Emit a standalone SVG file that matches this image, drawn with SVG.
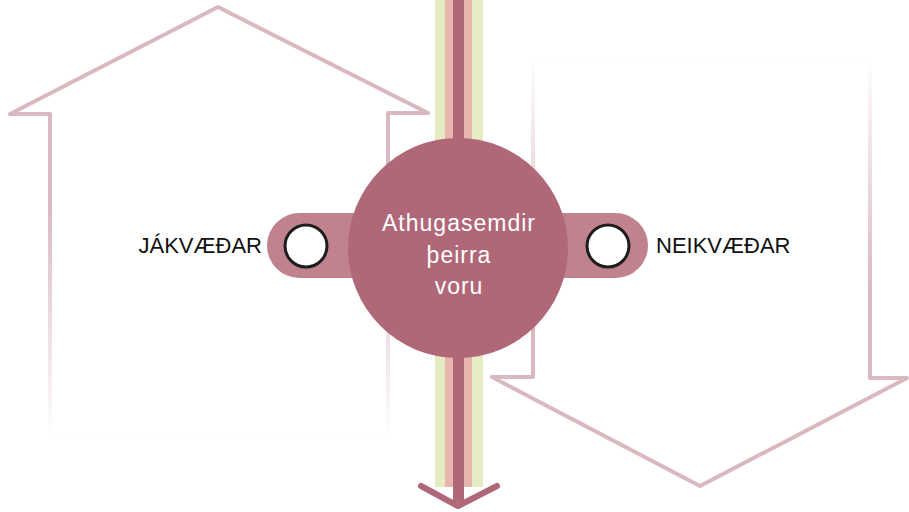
<svg xmlns="http://www.w3.org/2000/svg" width="909" height="512" viewBox="0 0 909 512">
  <defs>
    <linearGradient id="fadeDown" gradientUnits="userSpaceOnUse" x1="0" y1="7" x2="0" y2="438">
      <stop offset="0" stop-color="#d9b8bf" stop-opacity="1"/>
      <stop offset="0.45" stop-color="#d9b8bf" stop-opacity="1"/>
      <stop offset="1" stop-color="#d9b8bf" stop-opacity="0"/>
    </linearGradient>
    <linearGradient id="fadeUp" gradientUnits="userSpaceOnUse" x1="0" y1="55" x2="0" y2="488">
      <stop offset="0" stop-color="#d9b8bf" stop-opacity="0"/>
      <stop offset="0.55" stop-color="#d9b8bf" stop-opacity="1"/>
      <stop offset="1" stop-color="#d9b8bf" stop-opacity="1"/>
    </linearGradient>
    <style>
      .outline { fill: none; stroke-width: 4; stroke-linejoin: round; stroke-linecap: round; }
      .pill { fill: #c0838e; }
      .knob { fill: #ffffff; stroke: #1e1e1e; stroke-width: 3; }
      .label { font-family: "Liberation Sans", Arial, sans-serif; font-size: 22px; fill: #111111; }
      .center { font-family: "Liberation Sans", Arial, sans-serif; font-size: 23px; fill: #ffffff; letter-spacing: 1px; }
    </style>
  </defs>

  <g id="positive-arrow">
    <path class="outline" stroke="url(#fadeDown)" d="M50,434 L50,114 L10,114 L218,7 L428,113 L388,113 L388,434 Z"/>
  </g>
  <g id="negative-arrow">
    <path class="outline" stroke="url(#fadeUp)" d="M533,58 L870,58 L870,378 L907,378 L700,486 L492,377 L533,377 Z"/>
  </g>

  <g id="connectors">
    <rect x="435" y="0" width="48" height="487" fill="#e3ecc2"/>
    <rect x="445" y="0" width="27" height="487" fill="#e6b5ad"/>
    <rect x="453" y="0" width="11" height="502" fill="#b06878"/>
    <polyline points="421,486 458,506 497,486" fill="none" stroke="#b06878" stroke-width="6" stroke-linecap="round" stroke-linejoin="round"/>
  </g>

  <g id="left-pill">
    <rect class="pill" x="267" y="213" width="200" height="65" rx="32.5"/>
    <circle class="knob" cx="306" cy="246" r="21"/>
  </g>
  <g id="right-pill">
    <rect class="pill" x="450" y="213" width="198" height="65" rx="32.5"/>
    <circle class="knob" cx="608" cy="246" r="21"/>
  </g>

  <g id="center-node">
    <circle cx="458" cy="248" r="110" fill="#b06878"/>
    <text class="center" x="459" y="231" text-anchor="middle">Athugasemdir</text>
    <text class="center" x="459" y="263" text-anchor="middle">þeirra</text>
    <text class="center" x="459" y="294" text-anchor="middle">voru</text>
  </g>

  <g id="label-positive">
    <text class="label" x="262" y="253" text-anchor="end">JÁKVÆÐAR</text>
  </g>
  <g id="label-negative">
    <text class="label" x="656" y="253">NEIKVÆÐAR</text>
  </g>
</svg>
